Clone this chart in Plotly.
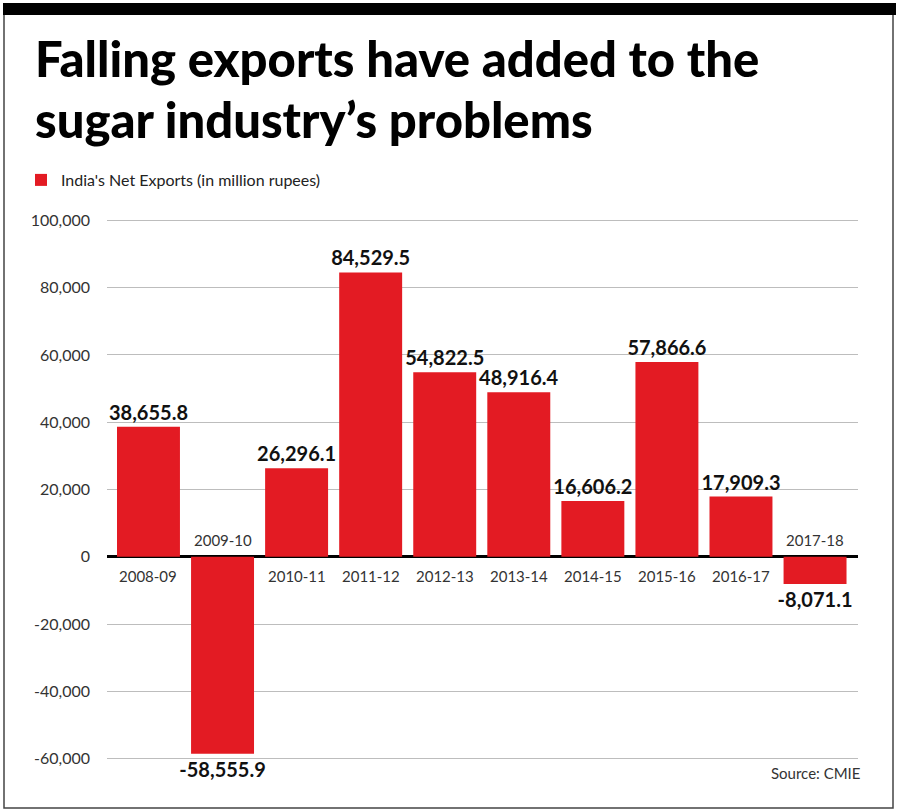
import plotly.graph_objects as go

categories = ["2008-09", "2009-10", "2010-11", "2011-12", "2012-13",
              "2013-14", "2014-15", "2015-16", "2016-17", "2017-18"]
net_exports = [38655.8, -58555.9, 26296.1, 84529.5, 54822.5,
               48916.4, 16606.2, 57866.6, 17909.3, -8071.1]
y_ticks = [-60000, -40000, -20000, 0, 20000, 40000, 60000, 80000, 100000]
y_tick_labels = ["-60,000", "-40,000", "-20,000", "0", "20,000",
                 "40,000", "60,000", "80,000", "100,000"]

title_lines = ["Falling exports have added to the", "sugar industry’s problems"]
series_name = "India's Net Exports (in million rupees)"
source_text = "Source: CMIE"

W, H = 900, 812
L, R, T, B = 107, 858, 217, 762
RED = "#e31b23"
FONT = "Lato, Roboto, Liberation Sans, sans-serif"


def px(x):
    return (x - L) / (R - L)


def py(y):
    return (B - y) / (B - T)


fig = go.Figure()
fig.add_trace(go.Bar(
    x=list(range(len(categories))),
    y=net_exports,
    name=series_name,
    marker=dict(color=RED, line=dict(width=0)),
    width=0.85,
    text=[f"{v:,.1f}" for v in net_exports],
    textposition="outside",
    constraintext="none",
    cliponaxis=False,
    textfont=dict(family=FONT, size=20, color="#111111", weight="bold"),
    showlegend=True,
))

# category labels next to the zero line
for i, (c, v) in enumerate(zip(categories, net_exports)):
    fig.add_annotation(
        x=i, y=0, xref="x", yref="y", text=c, showarrow=False,
        yshift=-19 if v >= 0 else 17,
        font=dict(family=FONT, size=15, color="#333333"),
    )

# title (two lines positioned separately for tight leading)
for line, top in zip(title_lines, [27, 88]):
    fig.add_annotation(
        x=px(33), y=py(top), xref="paper", yref="paper", xanchor="left", yanchor="top",
        text=line, showarrow=False, align="left",
        font=dict(family=FONT, size=49, color="#000000", weight=900),
    )

# source
fig.add_annotation(
    x=px(862), y=py(773), xref="paper", yref="paper", xanchor="right", yanchor="middle",
    text=source_text, showarrow=False,
    font=dict(family=FONT, size=15, color="#333333"),
)

# frame and top black band
fig.add_shape(type="rect", xref="paper", yref="paper",
              x0=px(4), x1=px(893), y0=py(808), y1=py(10),
              line=dict(color="#444444", width=1.5), layer="below")
fig.add_shape(type="rect", xref="paper", yref="paper",
              x0=px(3), x1=px(896), y0=py(15), y1=py(3),
              line=dict(width=0), fillcolor="#000000")

fig.update_layout(
    width=W, height=H,
    margin=dict(l=L, r=W - R, t=T, b=H - B, pad=0),
    paper_bgcolor="white", plot_bgcolor="white",
    showlegend=True,
    legend=dict(x=px(21), y=py(163), xanchor="left", yanchor="top",
                font=dict(family=FONT, size=16, color="#222222"),
                bgcolor="rgba(0,0,0,0)"),
    xaxis=dict(range=[-0.56, 9.58], showticklabels=False, showgrid=False,
               zeroline=False, showline=False, ticks=""),
    yaxis=dict(range=[-61000, 101000], tickvals=y_ticks, ticktext=y_tick_labels,
               showgrid=True, gridcolor="#bdbdbd", gridwidth=1,
               zeroline=True, zerolinecolor="#000000", zerolinewidth=3,
               showline=False, ticks="", ticklabelstandoff=16,
               tickfont=dict(family=FONT, size=16, color="#333333")),
)

fig.write_html("out.html", config={"displayModeBar": False},
               post_script="document.body.style.margin='0';document.body.style.overflow='hidden';")
